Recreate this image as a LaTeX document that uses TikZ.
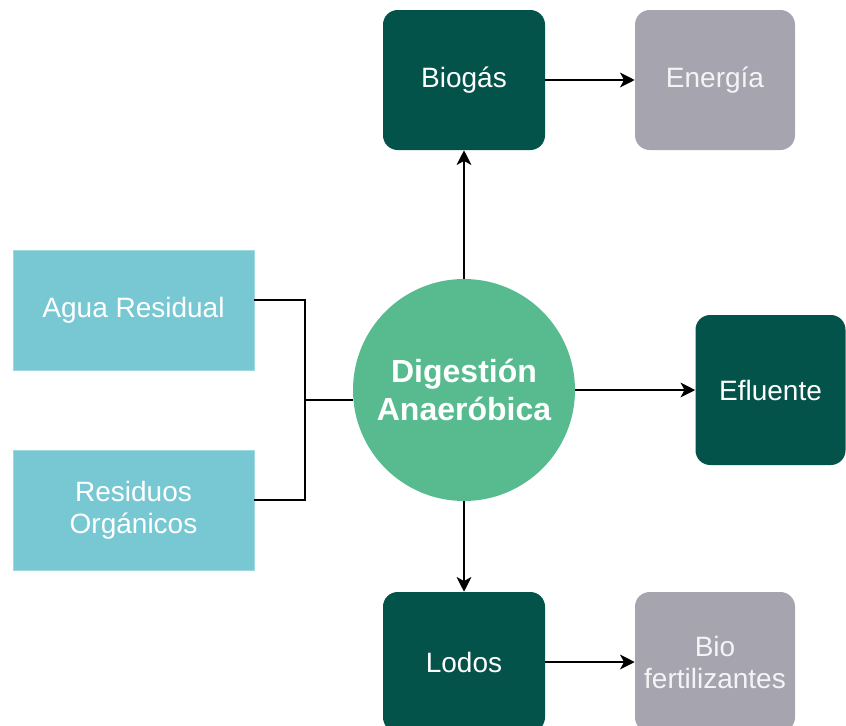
\documentclass[tikz,border=0pt]{standalone}
\usepackage{fontspec}
\setmainfont{Liberation Sans}
\usetikzlibrary{arrows.meta}
\definecolor{inputcol}{HTML}{77C8D3}
\definecolor{corecol}{HTML}{57BB8F}
\definecolor{darkcol}{HTML}{03534A}
\definecolor{greycol}{HTML}{A6A5AF}
\definecolor{softwhite}{HTML}{F4F4F6}
\tikzset{
  inbox/.style={rectangle, fill=inputcol, draw=inputcol!70!white, line width=0.5pt,
    minimum width=180.75pt, minimum height=90pt, align=center, text=white,
    font=\fontsize{21}{24}\selectfont},
  darkbox/.style={rectangle, rounded corners=11pt, fill=darkcol,
    minimum width=121.5pt, minimum height=105pt, align=center, text=white,
    font=\fontsize{21}{24}\selectfont},
  greybox/.style={rectangle, rounded corners=11pt, fill=greycol,
    minimum width=120pt, minimum height=105pt, align=center, text=softwhite,
    font=\fontsize{21}{24}\selectfont},
  hub/.style={circle, fill=corecol, minimum size=166.5pt, inner sep=0pt,
    align=center, text=white, font=\bfseries\fontsize{24}{28.5}\selectfont},
  link/.style={line width=1.5pt, black},
  flow/.style={link, -{Stealth[length=11pt, width=11pt, inset=3pt]}}
}
\begin{document}
\begin{tikzpicture}[x=0.75pt, y=-0.75pt]
  \useasboundingbox (0,0) rectangle (846,725);
  \clip (0,0) rectangle (846,725);
  % inputs
  \node[inbox] (agua) at (133.5,310) {Agua Residual};
  \node[inbox] (resid) at (133.5,510) {Residuos\\Orgánicos};
  % digester
  \node[hub] (dig) at (464,390) {Digestión\\Anaeróbica};
  % products
  \node[darkbox] (biogas) at (464,80) {Biogás};
  \node[greybox] (energia) at (715,80) {Energía};
  \node[darkbox, minimum width=112.5pt, minimum height=112.5pt] (eflu) at (770.5,390) {Efluente};
  \node[darkbox] (lodos) at (464,662) {Lodos};
  \node[greybox] (biofert) at (715,662) {Bio\\fertilizantes};
  % feed lines merging into the digester
  \coordinate (junc) at (305,400);
  \draw[link] ([yshift=7.5pt]agua.east) -| (junc);
  \draw[link] ([yshift=7.5pt]resid.east) -| (junc);
  \draw[link] (junc) -- (dig.west |- junc);
  % outputs
  \draw[flow] (dig.north) -- (biogas.south);
  \draw[flow] (biogas.east) -- (energia.west);
  \draw[flow] (dig.east) -- (eflu.west);
  \draw[flow] (dig.south) -- (lodos.north);
  \draw[flow] (lodos.east) -- (biofert.west);
\end{tikzpicture}
\end{document}
